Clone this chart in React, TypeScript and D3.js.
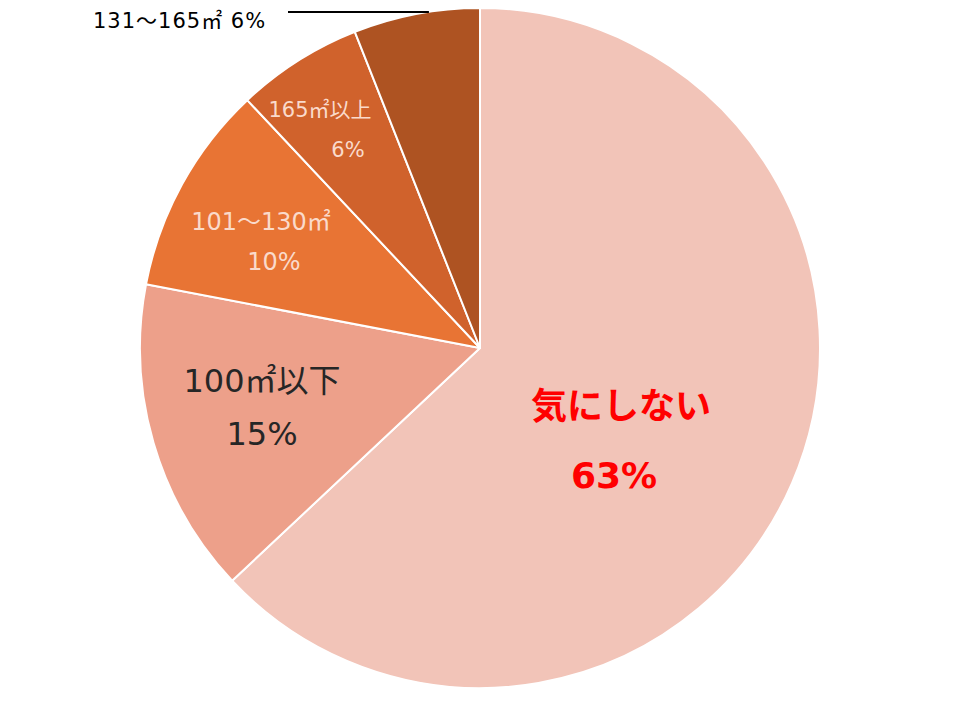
import React, { useEffect, useRef } from 'react';
import * as d3 from 'd3';

// slices, clockwise from 12 o'clock
const categories = ['気にしない', '100㎡以下', '101～130㎡', '165㎡以上', '131～165㎡'];
const shares = [63, 15, 10, 6, 6];
const sliceColors = ['#F2C4B8', '#EDA08A', '#E87434', '#D0622C', '#AE5322'];

const W = 960;
const H = 720;

const App: React.FC = () => {
  const svgRef = useRef<SVGSVGElement>(null);

  useEffect(() => {
    if (!svgRef.current) return;
    const svg = d3.select(svgRef.current);
    svg.selectAll('*').remove();

    const cx = 480, cy = 348, radius = 340;
    const g = svg.append('g').attr('transform', `translate(${cx},${cy})`);

    const pie = d3.pie<number>().sort(null).value(d => d);
    const arcs = pie(shares);
    const arc = d3.arc<d3.PieArcDatum<number>>().innerRadius(0).outerRadius(radius);

    g.selectAll('path')
      .data(arcs)
      .enter()
      .append('path')
      .attr('d', arc)
      .attr('fill', (_, i) => sliceColors[i])
      .attr('stroke', '#fff')
      .attr('stroke-width', 2)
      .attr('stroke-linejoin', 'round');

    // wide latin glyphs, CJK falls back to Noto
    const font = '"DejaVu Sans", "Noto Sans CJK JP", sans-serif';

    // label placement per slice (relative to pie centre)
    const labels = [
      { lines: [categories[0], `${shares[0]}%`], pos: [[141, 71], [134, 140]], size: 36, color: '#FF0000', weight: 'bold' },
      { lines: [categories[1], `${shares[1]}%`], pos: [[-218, 44], [-218, 97]], size: 32, color: '#262626', weight: 'normal' },
      { lines: [categories[2], `${shares[2]}%`], pos: [[-219, -118], [-206, -78]], size: 24, color: '#FADACB', weight: 'normal' },
      { lines: [categories[3], `${shares[3]}%`], pos: [[-160, -231], [-132, -191]], size: 21, color: '#FADACB', weight: 'normal' },
    ];

    labels.forEach(l => {
      l.lines.forEach((t, j) => {
        g.append('text')
          .attr('x', l.pos[j][0])
          .attr('y', l.pos[j][1])
          .attr('text-anchor', 'middle')
          .attr('font-family', font)
          .attr('font-size', l.size)
          .attr('font-weight', l.weight)
          .attr('fill', l.color)
          .text(t);
      });
    });

    // outside label for the last slice with leader line
    const last = arcs[4];
    const edgeAngle = last.startAngle + (last.endAngle - last.startAngle) * 0.6;
    const ex = radius * Math.sin(edgeAngle);
    g.append('line')
      .attr('x1', ex)
      .attr('y1', -336)
      .attr('x2', -192)
      .attr('y2', -336)
      .attr('stroke', '#000')
      .attr('stroke-width', 2);

    g.append('text')
      .attr('x', -387)
      .attr('y', -320)
      .attr('font-family', font)
      .attr('font-size', 21)
      .attr('letter-spacing', 1)
      .attr('fill', '#000')
      .text(`${categories[4]} ${shares[4]}%`);
  }, []);

  return (
    <svg
      ref={svgRef}
      width={W}
      height={H}
      style={{ position: 'absolute', left: 0, top: 0, background: '#fff' }}
    />
  );
};

export default App;
